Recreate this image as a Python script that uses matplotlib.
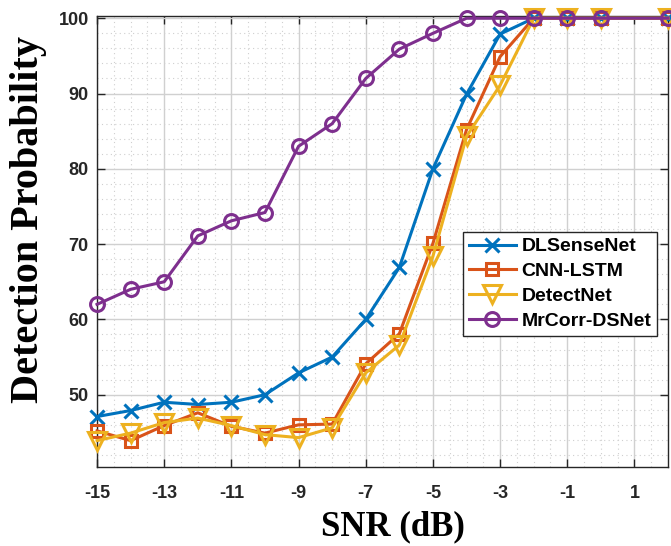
import matplotlib
matplotlib.use("Agg")
import matplotlib.pyplot as plt
from matplotlib.ticker import MultipleLocator

plt.rcParams["axes.unicode_minus"] = False

snr = [-15, -14, -13, -12, -11, -10, -9, -8, -7, -6, -5, -4, -3, -2, -1, 0, 2]
dlsensenet = [47.1, 47.9, 49.0, 48.7, 49.0, 50.0, 52.9, 55.0, 60.0, 66.9, 80.0, 89.9, 97.9, 100, 100, 100, 100]
cnn_lstm = [45.2, 43.9, 45.9, 47.6, 45.8, 44.9, 46.0, 46.1, 54.1, 58.1, 70.1, 85.2, 94.9, 100, 100, 100, 100]
detectnet = [43.9, 44.9, 46.3, 46.9, 45.9, 44.7, 44.3, 45.6, 52.9, 56.6, 68.4, 84.3, 91.1, 100, 100, 100, 100]
mrcorr = [62.0, 64.0, 65.0, 71.1, 73.1, 74.2, 83.0, 86.0, 92.0, 95.9, 98.0, 100, 100, 100, 100, 100, 100]

names = ["DLSenseNet", "CNN-LSTM", "DetectNet", "MrCorr-DSNet"]
colors = ["#0072BD", "#D95319", "#EDB120", "#7E2F8E"]
markers = ["x", "s", "v", "o"]
msizes = [10, 9, 13, 10]
xticks = [-15, -13, -11, -9, -7, -5, -3, -1, 1]
yticks = [50, 60, 70, 80, 90, 100]

fig = plt.figure(figsize=(6.71, 5.46), dpi=100)
ax = fig.add_axes([0.1446, 0.1447, 0.851, 0.826])

for ys, n, c, m, ms in zip([dlsensenet, cnn_lstm, detectnet, mrcorr], names, colors, markers, msizes):
    ax.plot(snr, ys, color=c, marker=m, markersize=ms, markerfacecolor="none",
            markeredgewidth=2.2, linewidth=2.2, label=n, clip_on=False, zorder=3)

ax.set_xlim(-15, 2)
ax.set_ylim(40.4, 100.3)
ax.set_xticks(xticks)
ax.set_yticks(yticks)
ax.xaxis.set_minor_locator(MultipleLocator(0.5))
ax.yaxis.set_minor_locator(MultipleLocator(2))
ax.grid(which="major", color="#d0d0d0", linewidth=1.0, linestyle="-")
ax.grid(which="minor", color="#cfcfcf", linewidth=0.8, linestyle=(0, (1, 3)))
ax.set_axisbelow(True)
ax.tick_params(which="major", direction="in", top=True, right=True, length=6, width=1,
               labelsize=13, colors="#262626")
ax.tick_params(which="minor", length=0)
ax.tick_params(axis="x", pad=13)
ax.tick_params(axis="y", pad=6)
for lab in ax.get_xticklabels() + ax.get_yticklabels():
    lab.set_fontweight("bold")
    lab.set_family("Liberation Sans")
for s in ax.spines.values():
    s.set_color("#262626")
    s.set_linewidth(1.0)

ax.set_xlabel("SNR (dB)", family="Liberation Serif", fontweight="bold", fontsize=25)
ax.set_ylabel("Detection Probability", family="Liberation Serif", fontweight="bold", fontsize=29)
ax.xaxis.set_label_coords(0.519, -0.095)
ax.yaxis.set_label_coords(-0.088, 0.548)

leg = ax.legend(loc="upper right", bbox_to_anchor=(0.981, 0.521), borderaxespad=0,
                prop={"family": "Liberation Sans", "weight": "bold", "size": 14},
                handlelength=2.4, fancybox=False, edgecolor="#262626", framealpha=1,
                borderpad=0.3, labelspacing=0.37, handletextpad=0.3)
leg.get_frame().set_linewidth(1.0)

fig.savefig("out.png", dpi=100)
